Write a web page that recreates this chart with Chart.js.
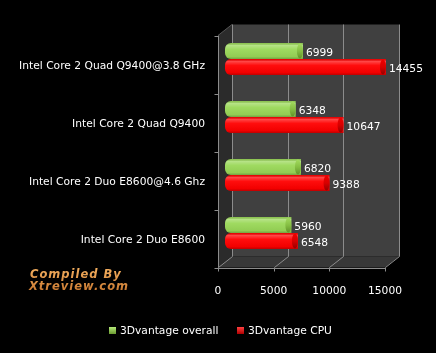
<!DOCTYPE html>
<html>
<head>
<meta charset="utf-8">
<script src="https://cdn.jsdelivr.net/npm/chart.js@4"></script>
<style>
  html, body { margin: 0; padding: 0; background: #000; }
  #wrap { width: 436px; height: 353px; }
</style>
</head>
<body>
<div id="wrap"><canvas id="chart" width="436" height="353"></canvas></div>
<script>
// data
let categories = [
  "Intel Core 2 Quad Q9400@3.8 GHz",
  "Intel Core 2 Quad Q9400",
  "Intel Core 2 Duo E8600@4.6 Ghz",
  "Intel Core 2 Duo E8600"
];
let overall = [6999, 6348, 6820, 5960];
let cpu = [14455, 10647, 9388, 6548];
let seriesNames = ["3Dvantage overall", "3Dvantage CPU"];
let xTicks = [0, 5000, 10000, 15000];

const FONT = "10.7px 'DejaVu Sans'";
const DX = 7, DY = 5.5; // half depth of the 3d box
const CAT_PCT = 32 / 58; // two 16px bars in a 58px band

// 🧱 walls, floor, grid
const box3d = {
  id: "box3d",
  beforeDatasetsDraw(chart) {
    let c = chart.ctx;
    let xs = chart.scales.x;
    let a = chart.chartArea;
    let x0 = xs.getPixelForValue(0), x1 = xs.getPixelForValue(15000);
    let fl = x0 - DX, fr = x1 - DX, bl = x0 + DX, br = x1 + DX;
    let ft = a.top + DY, fb = a.bottom + DY, bt = a.top - DY, bb = a.bottom - DY;
    c.save();
    // back wall
    c.fillStyle = "#404040";
    c.fillRect(bl, bt, br - bl, bb - bt);
    // left wall
    c.fillStyle = "#2b2b2b";
    c.beginPath();
    c.moveTo(fl, ft); c.lineTo(bl, bt); c.lineTo(bl, bb); c.lineTo(fl, fb);
    c.closePath(); c.fill();
    // floor
    c.fillStyle = "#383838";
    c.beginPath();
    c.moveTo(fl, fb); c.lineTo(bl, bb); c.lineTo(br, bb); c.lineTo(fr, fb);
    c.closePath(); c.fill();
    // grid
    c.strokeStyle = "#8c8c8c";
    c.lineWidth = 1;
    xTicks.forEach(v => {
      let x = Math.round(xs.getPixelForValue(v)) + 0.5;
      c.beginPath();
      c.moveTo(x + DX, bt); c.lineTo(x + DX, bb); c.lineTo(x - DX, fb); c.lineTo(x - DX, fb + 4);
      c.stroke();
    });
    // front axes
    let lx = Math.round(fl) + 0.5;
    c.beginPath();
    c.moveTo(lx, ft); c.lineTo(lx, fb);
    c.moveTo(lx, Math.round(fb) + 0.5); c.lineTo(Math.round(fr) + 0.5, Math.round(fb) + 0.5);
    c.stroke();
    let ys = chart.scales.y;
    let band = ys.getPixelForValue(1) - ys.getPixelForValue(0);
    for (let i = 0; i <= categories.length; i++) {
      let y = Math.round(ys.getPixelForValue(0) - band / 2 + band * i + DY) + 0.5;
      c.beginPath(); c.moveTo(lx - 4, y); c.lineTo(lx, y); c.stroke();
    }
    // top edge of left wall
    c.strokeStyle = "#555";
    c.beginPath(); c.moveTo(fl, ft); c.lineTo(bl, bt); c.stroke();
    c.restore();
  },
  afterDatasetsDraw(chart) {
    let c = chart.ctx;
    let caps = [["#a4dc60", "#86bf44", "#5f8f28"], ["#f00000", "#d80000", "#900000"]];
    c.save();
    chart.data.datasets.forEach((ds, di) => {
      chart.getDatasetMeta(di).data.forEach((bar, i) => {
        let h = bar.height;
        let top = bar.y - h / 2;
        // cylinder shading over the bar
        let sh = c.createLinearGradient(0, top, 0, top + h);
        sh.addColorStop(0, "rgba(0,0,0,0.08)");
        sh.addColorStop(0.15, "rgba(255,255,255,0.28)");
        sh.addColorStop(0.4, "rgba(255,255,255,0.05)");
        sh.addColorStop(0.85, "rgba(0,0,0,0.05)");
        sh.addColorStop(1, "rgba(0,0,0,0.25)");
        c.fillStyle = sh;
        c.beginPath();
        c.roundRect(bar.base, top, bar.x - bar.base, h, [h / 2.6, 0, 0, h / 2.6]);
        c.fill();
        // end cap
        let g = c.createLinearGradient(0, top, 0, top + h);
        g.addColorStop(0, caps[di][0]);
        g.addColorStop(0.5, caps[di][1]);
        g.addColorStop(1, caps[di][2]);
        c.fillStyle = g;
        c.beginPath();
        c.ellipse(bar.x - 3, bar.y, 3, h / 2 - 0.5, 0, 0, Math.PI * 2);
        c.fill();
        // value label
        c.fillStyle = "#fff";
        c.font = FONT;
        c.textAlign = "left";
        c.textBaseline = "middle";
        c.fillText(ds.data[i], bar.x + 3, bar.y + 2.5);
      });
    });
    c.restore();
  },
  afterDraw(chart) {
    let c = chart.ctx;
    let xs = chart.scales.x, ys = chart.scales.y;
    let a = chart.chartArea;
    c.save();
    c.font = FONT;
    c.fillStyle = "#fff";
    c.textBaseline = "middle";
    // category labels
    c.textAlign = "right";
    categories.forEach((name, i) => {
      c.fillText(name, 205, ys.getPixelForValue(i) + DY + 1.5);
    });
    // x tick labels
    c.textAlign = "center";
    xTicks.forEach(v => {
      c.fillText(v, xs.getPixelForValue(v) - DX, a.bottom + DY + 23.5);
    });
    // legend
    let colors = [["#b4e878", "#6a9a30"], ["#ff4040", "#b00000"]];
    let lx = [109, 237];
    c.textAlign = "left";
    seriesNames.forEach((n, i) => {
      let g = c.createLinearGradient(0, 327, 0, 334);
      g.addColorStop(0, colors[i][0]);
      g.addColorStop(1, colors[i][1]);
      c.fillStyle = g;
      c.fillRect(lx[i], 327, 7, 7);
      c.fillStyle = "#fff";
      c.fillText(n, lx[i] + 11, 331.5);
    });
    // watermark
    c.font = "italic bold 11.5px 'DejaVu Sans'";
    c.letterSpacing = "1px";
    let wg = c.createLinearGradient(0, 268, 0, 292);
    wg.addColorStop(0, "#f5b060");
    wg.addColorStop(1, "#c87830");
    c.fillStyle = wg;
    c.fillText("Compiled By", 30, 275);
    c.fillText("Xtreview.com", 29, 287);
    c.restore();
  }
};

let barOpts = {
  categoryPercentage: CAT_PCT,
  barPercentage: 1,
  borderRadius: { topLeft: 6, bottomLeft: 6, topRight: 0, bottomRight: 0 },
  borderSkipped: false
};

chart = new Chart(document.getElementById("chart"), {
  type: "bar",
  data: {
    labels: categories,
    datasets: [
      Object.assign({ label: seriesNames[0], data: overall, backgroundColor: "#9ad858" }, barOpts),
      Object.assign({ label: seriesNames[1], data: cpu, backgroundColor: "#ff0000" }, barOpts)
    ]
  },
  options: {
    indexAxis: "y",
    responsive: false,
    animation: false,
    devicePixelRatio: 1,
    layout: { padding: { left: 225, right: 44, top: 30, bottom: 91 } },
    scales: {
      x: { display: false, min: 0, max: 15000 },
      y: { display: false }
    },
    plugins: { legend: { display: false }, tooltip: { enabled: false } }
  },
  plugins: [box3d]
});
</script>
</body>
</html>
